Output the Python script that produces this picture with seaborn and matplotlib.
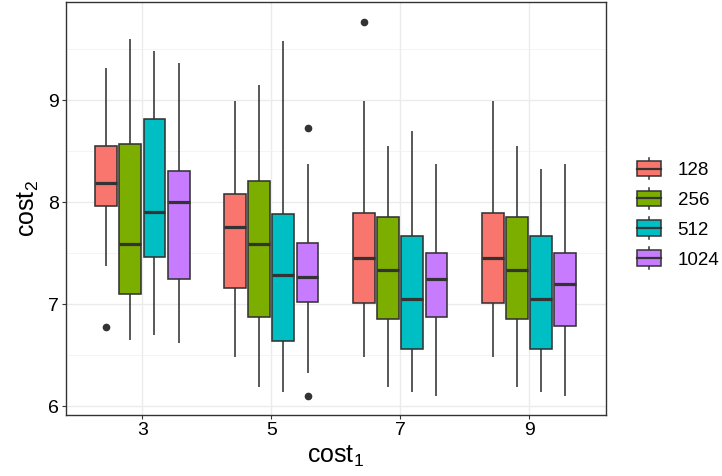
import numpy as np
import pandas as pd
import seaborn as sns
import matplotlib.pyplot as plt
from matplotlib.patches import Rectangle
from matplotlib.lines import Line2D
from matplotlib.legend_handler import HandlerBase
from matplotlib.ticker import MultipleLocator

# box summaries: (lower whisker, q1, median, q3, upper whisker)
cost1_levels = [3, 5, 7, 9]
cost2_levels = ["128", "256", "512", "1024"]

lower_whisker = {
    "128":  [7.38, 6.48, 6.48, 6.48],
    "256":  [6.65, 6.19, 6.19, 6.19],
    "512":  [6.70, 6.14, 6.14, 6.14],
    "1024": [6.62, 6.33, 6.10, 6.10],
}
q1 = {
    "128":  [7.96, 7.16, 7.01, 7.01],
    "256":  [7.10, 6.88, 6.86, 6.86],
    "512":  [7.46, 6.64, 6.56, 6.56],
    "1024": [7.25, 7.02, 6.88, 6.79],
}
median = {
    "128":  [8.19, 7.76, 7.45, 7.45],
    "256":  [7.59, 7.59, 7.34, 7.34],
    "512":  [7.91, 7.29, 7.05, 7.05],
    "1024": [8.00, 7.27, 7.25, 7.20],
}
q3 = {
    "128":  [8.55, 8.08, 7.90, 7.90],
    "256":  [8.57, 8.21, 7.86, 7.86],
    "512":  [8.82, 7.89, 7.67, 7.67],
    "1024": [8.31, 7.60, 7.50, 7.50],
}
upper_whisker = {
    "128":  [9.32, 8.99, 8.99, 8.99],
    "256":  [9.60, 9.15, 8.55, 8.55],
    "512":  [9.48, 9.58, 8.70, 8.33],
    "1024": [9.37, 8.38, 8.38, 8.38],
}
# outliers: (cost1, cost2, value)
low_outliers = [(3, "128", 6.78), (5, "1024", 6.10)]
high_outliers = [(5, "1024", 8.73), (7, "128", 9.77)]

colors = ["#F8766D", "#7CAE00", "#00BFC4", "#C77CFF"]


def box_points(c1, c2, i):
    # nine points whose quartiles and whiskers reproduce the summary above
    lo_out = [v for a, b, v in low_outliers if a == c1 and b == c2]
    hi_out = [v for a, b, v in high_outliers if a == c1 and b == c2]
    lower = lo_out + [lower_whisker[c2][i]] + [q1[c2][i]] * (2 - len(lo_out))
    upper = [q3[c2][i]] * (2 - len(hi_out)) + [upper_whisker[c2][i]] + hi_out
    return lower + [median[c2][i]] * 3 + upper


rows = []
for i, c1 in enumerate(cost1_levels):
    for c2 in cost2_levels:
        for v in box_points(c1, c2, i):
            rows.append({"cost1": c1, "cost2": c2, "value": v})
df = pd.DataFrame(rows)

plt.rcParams["font.family"] = ["Liberation Sans", "DejaVu Sans"]
plt.rcParams["mathtext.fontset"] = "custom"
plt.rcParams["mathtext.rm"] = "Liberation Sans"
plt.rcParams["mathtext.it"] = "Liberation Sans"

fig = plt.figure(figsize=(7.22, 4.76), dpi=100)
ax = fig.add_axes([0.091, 0.129, 0.748, 0.866])

edge = "#333333"
sns.boxplot(data=df, x="cost1", y="value", hue="cost2", hue_order=cost2_levels,
            palette=colors, saturation=1, native_scale=True, width=0.75, gap=0.1,
            linecolor=edge, linewidth=1.15, legend=False, ax=ax,
            showcaps=False,
            medianprops={"linewidth": 2.3, "color": edge},
            flierprops={"marker": "o", "markerfacecolor": edge,
                        "markeredgecolor": edge, "markersize": 4.5})

ax.set_xlim(1.81, 10.19)
ax.set_ylim(5.92, 9.96)
ax.set_xticks(cost1_levels)
ax.set_yticks([6, 7, 8, 9])
ax.yaxis.set_minor_locator(MultipleLocator(0.5))
ax.set_axisbelow(True)
ax.grid(True, which="major", color="#ebebeb", linewidth=1.0)
ax.grid(True, which="minor", axis="y", color="#f2f2f2", linewidth=0.6)
ax.tick_params(which="major", length=3, width=0.8, color=edge, pad=2,
               labelsize=14, labelcolor="black")
ax.tick_params(which="minor", length=0)
for s in ax.spines.values():
    s.set_color(edge)
    s.set_linewidth(1.0)
ax.set_xlabel("cost$_1$", fontsize=18, labelpad=4)
ax.set_ylabel("cost$_2$", fontsize=18, labelpad=5)


class BoxHandler(HandlerBase):
    def create_artists(self, legend, orig_handle, xdescent, ydescent,
                       width, height, fontsize, trans):
        x0, y0 = -xdescent, -ydescent
        ext = height * 0.2
        whisk = Line2D([x0 + width / 2] * 2, [y0 - ext, y0 + height + ext],
                       color=edge, linewidth=1.1, transform=trans)
        rect = Rectangle((x0, y0), width, height,
                         facecolor=orig_handle.get_facecolor(),
                         edgecolor=edge, linewidth=1.1, transform=trans)
        med = Line2D([x0, x0 + width], [y0 + height / 2] * 2,
                     color=edge, linewidth=1.6, transform=trans)
        return [whisk, rect, med]


handles = [Rectangle((0, 0), 1, 1, facecolor=c) for c in colors]
fig.legend(handles, cost2_levels, loc="center left",
           bbox_to_anchor=(0.882, 0.549), frameon=False, fontsize=13.5,
           handler_map={Rectangle: BoxHandler()}, handlelength=1.28,
           handleheight=0.9, handletextpad=0.9, labelspacing=0.62,
           borderpad=0, borderaxespad=0)

fig.savefig("out.png", dpi=100)
